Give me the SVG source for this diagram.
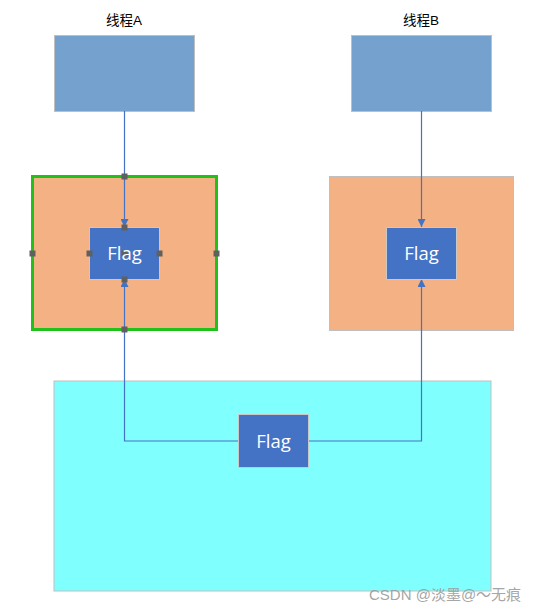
<svg xmlns="http://www.w3.org/2000/svg" width="537" height="612" viewBox="0 0 537 612">
<style>
.lbl{font-family:"Liberation Sans","Noto Sans CJK SC",sans-serif;font-size:13.5px;fill:#000;text-anchor:middle}
.thread{fill:#75A1CF;stroke:#BFBFBF;stroke-width:1}
.ctx{fill:#F4B183;stroke:#BFBFBF;stroke-width:1}
.flag{fill:#4472C4;stroke:#C9C9C9;stroke-width:1}
.ft{font-family:"Open Sans","Liberation Sans",sans-serif;font-size:18.5px;fill:#fff;text-anchor:middle}
.conn{fill:none;stroke:#4472C4;stroke-width:1.2}
.h{fill:#606060}
</style>
<defs>
<marker id="arr" viewBox="0 0 10 10" refX="10" refY="5" markerWidth="8" markerHeight="8" markerUnits="userSpaceOnUse" orient="auto">
<path d="M0,0 L10,5 L0,10 z" fill="#4472C4"/>
</marker>
</defs>
<rect width="537" height="612" fill="#fff"/>
<g id="shared">
<rect x="54" y="381" width="437" height="210" fill="#80FFFF" stroke="#BFBFBF" stroke-width="1"/>
</g>
<g id="threadA">
<text class="lbl" x="124" y="25">线程A</text>
<rect class="thread" x="54.5" y="35.5" width="140" height="76"/>
</g>
<g id="threadB">
<text class="lbl" x="421" y="25">线程B</text>
<rect class="thread" x="351.5" y="35.5" width="140" height="76"/>
</g>
<g id="ctxA">
<rect x="32.5" y="176.5" width="184" height="153" fill="#F4B183" stroke="#22C01A" stroke-width="3"/>
</g>
<g id="ctxB">
<rect class="ctx" x="329.5" y="176.5" width="184" height="154"/>
</g>
<g id="connectors">
<path class="conn" d="M124.5,111 V227" marker-end="url(#arr)"/>
<path class="conn" d="M238,441 H124.5 V279" marker-end="url(#arr)"/>
<path class="conn" d="M421.5,111 V227" marker-end="url(#arr)"/>
<path class="conn" d="M308,441 H421.5 V279" marker-end="url(#arr)"/>
</g>
<g id="flagA">
<rect class="flag" x="89.5" y="227.5" width="70" height="52"/>
</g>
<g id="handles">
<rect class="h" x="121.5" y="173.5" width="6" height="6"/>
<rect class="h" x="29.5" y="250.5" width="6" height="6"/>
<rect class="h" x="213.5" y="250.5" width="6" height="6"/>
<rect class="h" x="121.5" y="326.5" width="6" height="6"/>
<rect class="h" x="121.5" y="224.5" width="6" height="6"/>
<rect class="h" x="86.5" y="250.5" width="6" height="6"/>
<rect class="h" x="156.5" y="250.5" width="6" height="6"/>
<rect class="h" x="121.5" y="276.5" width="6" height="6"/>
<rect class="h" x="121.5" y="250.5" width="6" height="6"/>
</g>
<text class="ft" x="124.5" y="260">Flag</text>
<g id="flagB">
<rect class="flag" x="386.5" y="227.5" width="70" height="52"/>
<text class="ft" x="421.5" y="260">Flag</text>
</g>
<g id="flagC">
<rect class="flag" x="238.5" y="414.5" width="70" height="53"/>
<text class="ft" x="273.5" y="447.5">Flag</text>
</g>
<text x="369" y="600" font-family="Liberation Sans,Noto Sans CJK SC,sans-serif" font-size="15" fill="#9A9A9A" fill-opacity="0.9">CSDN @淡墨@～无痕</text>
</svg>
